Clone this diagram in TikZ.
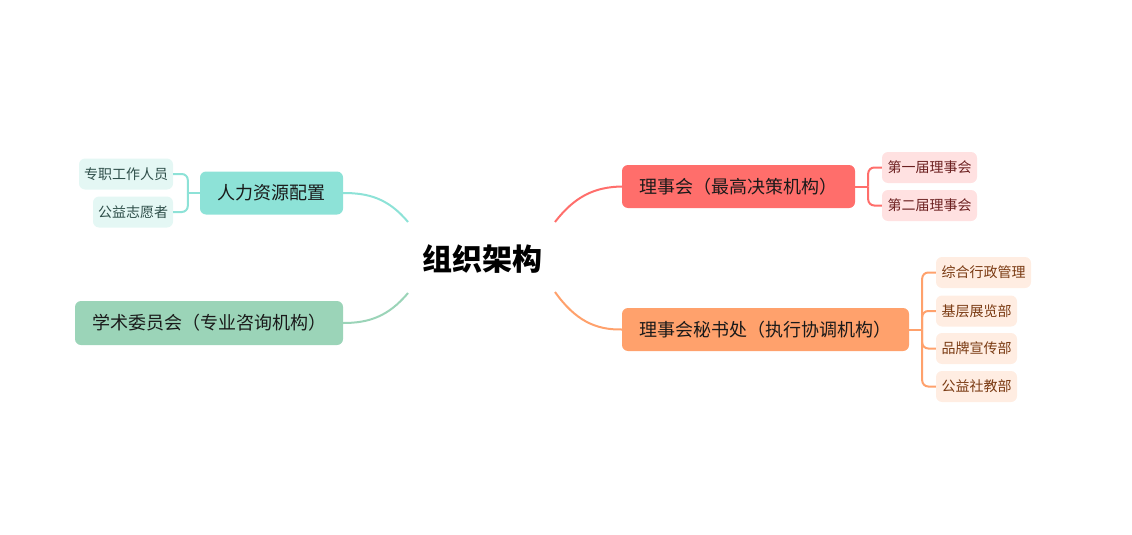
\documentclass[tikz,border=0pt]{standalone}
\usepackage{fontspec}
\setmainfont{Noto Sans CJK SC}
\usetikzlibrary{calc}
\definecolor{teal1}{HTML}{8DE2D7}
\definecolor{teall}{HTML}{E4F7F4}
\definecolor{tealt}{HTML}{2F4F4A}
\definecolor{green1}{HTML}{9BD4B8}
\definecolor{red1}{HTML}{FF6E6B}
\definecolor{redl}{HTML}{FFE1E1}
\definecolor{redt}{HTML}{6B1F1F}
\definecolor{orange1}{HTML}{FFA16C}
\definecolor{orangel}{HTML}{FFEDE2}
\definecolor{oranget}{HTML}{7A3A12}
\definecolor{maint}{HTML}{1A1A1A}
\tikzset{
  mainbox/.style={rounded corners=6pt, inner sep=0pt, minimum height=43pt, font=\fontsize{18}{21}\selectfont, text=maint},
  childbox/.style={rounded corners=6pt, inner sep=0pt, minimum height=31pt, font=\fontsize{14}{16}\selectfont},
  link/.style={line width=2pt},
}
\begin{document}
\begin{tikzpicture}[x=1pt,y=-1pt]
\useasboundingbox (0,0) rectangle (1132,535);
% center
\node[font=\fontsize{30}{33}\selectfont\bfseries, text=black] (root) at (482,259) {组织架构};
\coordinate (rtl) at (408,222);
\coordinate (rbl) at (408,293);
\coordinate (rtr) at (555,222);
\coordinate (rbr) at (555,292);
% parents
\node[mainbox, fill=teal1, minimum width=143pt] (hr) at (271.5,193) {人力资源配置};
\node[mainbox, fill=green1, minimum width=268pt, minimum height=44pt] (acad) at (209,323) {学术委员会（专业咨询机构）};
\node[mainbox, fill=red1, minimum width=233pt] (board) at (738.5,186.5) {理事会（最高决策机构）};
\node[mainbox, fill=orange1, minimum width=287pt] (sec) at (765.5,329.5) {理事会秘书处（执行协调机构）};
% children
\node[childbox, fill=teall, text=tealt, minimum width=94pt] (c1) at (126,174) {专职工作人员};
\node[childbox, fill=teall, text=tealt, minimum width=80pt] (c2) at (133,212) {公益志愿者};
\node[childbox, fill=redl, text=redt, minimum width=95pt] (b1) at (929.5,167.5) {第一届理事会};
\node[childbox, fill=redl, text=redt, minimum width=95pt] (b2) at (929.5,205.5) {第二届理事会};
\node[childbox, fill=orangel, text=oranget, minimum width=95pt] (s1) at (983.5,272.5) {综合行政管理};
\node[childbox, fill=orangel, text=oranget, minimum width=81pt] (s2) at (976.5,311) {基层展览部};
\node[childbox, fill=orangel, text=oranget, minimum width=81pt] (s3) at (976.5,348.5) {品牌宣传部};
\node[childbox, fill=orangel, text=oranget, minimum width=81pt] (s4) at (976.5,386.5) {公益社教部};
% main connectors
\draw[link, teal1] (rtl) .. controls (388,198) and (368,193) .. (hr.east);
\draw[link, green1] (rbl) .. controls (388,317) and (368,323) .. (acad.east);
\draw[link, red1] (rtr) .. controls (575,196) and (595,187) .. (board.west);
\draw[link, orange1] (rbr) .. controls (575,320) and (595,330) .. (sec.west);
% brackets
\coordinate (jhr) at ($(hr.west)+(-12,0)$);
\draw[link, teal1] (hr.west) -- (jhr);
\draw[link, teal1, rounded corners=6pt] (jhr) |- (c1.east);
\draw[link, teal1, rounded corners=6pt] (jhr) |- (c2.east);
\coordinate (jb) at ($(board.east)+(13,0)$);
\draw[link, red1] (board.east) -- (jb);
\draw[link, red1, rounded corners=6pt] (jb) |- (b1.west);
\draw[link, red1, rounded corners=6pt] (jb) |- (b2.west);
\coordinate (js) at ($(sec.east)+(13,0)$);
\draw[link, orange1] (sec.east) -- (js);
\draw[link, orange1, rounded corners=6pt] (js) |- (s1.west);
\draw[link, orange1, rounded corners=6pt] (js) |- (s2.west);
\draw[link, orange1, rounded corners=6pt] (js) |- (s3.west);
\draw[link, orange1, rounded corners=6pt] (js) |- (s4.west);
\end{tikzpicture}
\end{document}
